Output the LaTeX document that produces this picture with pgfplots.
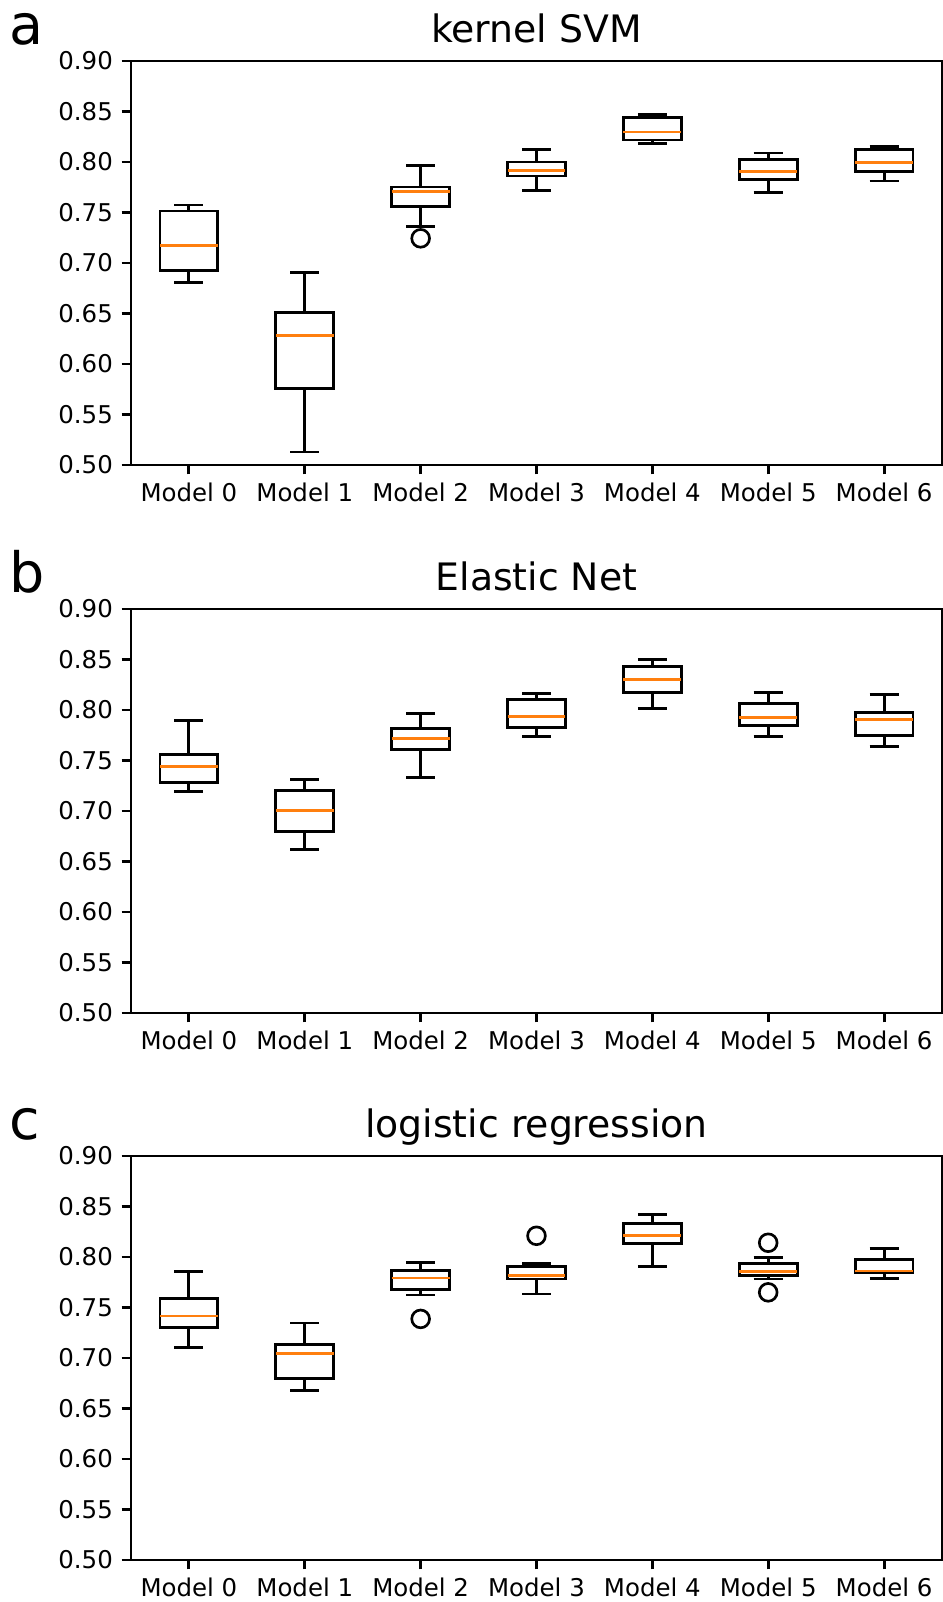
\documentclass[border=0pt]{standalone}
\usepackage{fontspec}
\setmainfont{DejaVu Sans}
\usepackage{pgfplots}
\usepgfplotslibrary{statistics}
\pgfplotsset{compat=1.18}
\definecolor{mplorange}{HTML}{FF7F0E}

% 1px of the reference = 0.45pt
\pgfplotsset{
  cvpanel/.style={
    scale only axis, width=364.95pt, height=181.8pt,
    xmin=0.5, xmax=7.5, ymin=0.5, ymax=0.9,
    xtick={1,2,3,4,5,6,7},
    xticklabels={Model 0,Model 1,Model 2,Model 3,Model 4,Model 5,Model 6},
    ytick={0.50,0.55,0.60,0.65,0.70,0.75,0.80,0.85,0.90},
    yticklabel style={/pgf/number format/.cd,fixed,fixed zerofill,precision=2},
    /pgf/number format/assume math mode=true,
    tick label style={font=\fontsize{11}{13}\selectfont},
    xtick pos=bottom, ytick pos=left,
    tick align=outside, major tick length=4.2pt,
    tick style={black, line width=1.3pt},
    line width=1.3pt,
    axis line style={line width=1.3pt},
    every axis title/.style={at={(0.5,1)}, anchor=base, yshift=8.1pt, inner sep=0pt,
      font=\fontsize{17}{20}\selectfont},
    boxplot/draw direction=y,
    boxplot/box extend=0.5,
    boxplot/whisker extend=0.25,
    clip=false,
  },
  bxp/.style={black, line width=1.3pt, mark=o, mark size=4pt,
    mark options={solid, line width=1.2pt},
    boxplot/every box/.style={draw=black, line width=1.3pt},
    boxplot/every whisker/.style={draw=black, line width=1.3pt},
    boxplot/every median/.style={draw=mplorange, line width=1.3pt}},
}

\begin{document}
\begin{tikzpicture}
\useasboundingbox (0,0) rectangle (424.35pt,720.9pt);

% ---- a: kernel SVM
\begin{axis}[cvpanel, name=ax1, at={(58.95pt,511.65pt)}, anchor=south west,
  title={kernel SVM}]
\addplot[bxp, boxplot prepared={draw position=1, lower whisker=0.6805, lower quartile=0.6927, median=0.7175, upper quartile=0.7515, upper whisker=0.7574}] coordinates {};
\addplot[bxp, boxplot prepared={draw position=2, lower whisker=0.5129, lower quartile=0.5759, median=0.6284, upper quartile=0.6508, upper whisker=0.6904}] coordinates {};
\addplot[bxp, boxplot prepared={draw position=3, lower whisker=0.7363, lower quartile=0.7561, median=0.7710, upper quartile=0.7752, upper whisker=0.7964}] table[row sep=\\, y index=0] {y\\ 0.7244\\};
\addplot[bxp, boxplot prepared={draw position=4, lower whisker=0.7720, lower quartile=0.7861, median=0.7914, upper quartile=0.8000, upper whisker=0.8125}] coordinates {};
\addplot[bxp, boxplot prepared={draw position=5, lower whisker=0.8182, lower quartile=0.8218, median=0.8297, upper quartile=0.8442, upper whisker=0.8469}] coordinates {};
\addplot[bxp, boxplot prepared={draw position=6, lower whisker=0.7700, lower quartile=0.7828, median=0.7904, upper quartile=0.8026, upper whisker=0.8089}] coordinates {};
\addplot[bxp, boxplot prepared={draw position=7, lower whisker=0.7812, lower quartile=0.7908, median=0.7997, upper quartile=0.8122, upper whisker=0.8149}] coordinates {};
\end{axis}

% ---- b: Elastic Net
\begin{axis}[cvpanel, name=ax2, at={(58.95pt,265.05pt)}, anchor=south west,
  title={Elastic Net}]
\addplot[bxp, boxplot prepared={draw position=1, lower whisker=0.7193, lower quartile=0.7285, median=0.7440, upper quartile=0.7562, upper whisker=0.7895}] coordinates {};
\addplot[bxp, boxplot prepared={draw position=2, lower whisker=0.6616, lower quartile=0.6797, median=0.7002, upper quartile=0.7203, upper whisker=0.7312}] coordinates {};
\addplot[bxp, boxplot prepared={draw position=3, lower whisker=0.7331, lower quartile=0.7605, median=0.7717, upper quartile=0.7820, upper whisker=0.7961}] coordinates {};
\addplot[bxp, boxplot prepared={draw position=4, lower whisker=0.7737, lower quartile=0.7829, median=0.7935, upper quartile=0.8103, upper whisker=0.8166}] coordinates {};
\addplot[bxp, boxplot prepared={draw position=5, lower whisker=0.8014, lower quartile=0.8169, median=0.8298, upper quartile=0.8430, upper whisker=0.8502}] coordinates {};
\addplot[bxp, boxplot prepared={draw position=6, lower whisker=0.7737, lower quartile=0.7846, median=0.7922, upper quartile=0.8067, upper whisker=0.8172}] coordinates {};
\addplot[bxp, boxplot prepared={draw position=7, lower whisker=0.7641, lower quartile=0.7750, median=0.7902, upper quartile=0.7974, upper whisker=0.8153}] coordinates {};
\end{axis}

% ---- c: logistic regression
\begin{axis}[cvpanel, name=ax3, at={(58.95pt,18.9pt)}, anchor=south west,
  title={logistic regression}]
\addplot[bxp, boxplot prepared={draw position=1, lower whisker=0.7107, lower quartile=0.7298, median=0.7416, upper quartile=0.7588, upper whisker=0.7854}] coordinates {};
\addplot[bxp, boxplot prepared={draw position=2, lower whisker=0.6682, lower quartile=0.6794, median=0.7041, upper quartile=0.7133, upper whisker=0.7347}] coordinates {};
\addplot[bxp, boxplot prepared={draw position=3, lower whisker=0.7624, lower quartile=0.7680, median=0.7792, upper quartile=0.7867, upper whisker=0.7947}] table[row sep=\\, y index=0] {y\\ 0.7387\\};
\addplot[bxp, boxplot prepared={draw position=4, lower whisker=0.7634, lower quartile=0.7782, median=0.7815, upper quartile=0.7910, upper whisker=0.7940}] table[row sep=\\, y index=0] {y\\ 0.8210\\};
\addplot[bxp, boxplot prepared={draw position=5, lower whisker=0.7904, lower quartile=0.8131, median=0.8216, upper quartile=0.8335, upper whisker=0.8421}] coordinates {};
\addplot[bxp, boxplot prepared={draw position=6, lower whisker=0.7782, lower quartile=0.7821, median=0.7854, upper quartile=0.7933, upper whisker=0.7999}] table[row sep=\\, y index=0] {y\\ 0.8141\\ 0.7650\\};
\addplot[bxp, boxplot prepared={draw position=7, lower whisker=0.7788, lower quartile=0.7844, median=0.7861, upper quartile=0.7979, upper whisker=0.8085}] coordinates {};
\end{axis}

% panel letters
\foreach \ax/\lt in {ax1/a, ax2/b, ax3/c}
  \node[anchor=base west, inner sep=0pt, font=\fontsize{25}{30}\selectfont]
    at ([xshift=-55pt, yshift=7.2pt]\ax.north west) {\lt};
\end{tikzpicture}
\end{document}
